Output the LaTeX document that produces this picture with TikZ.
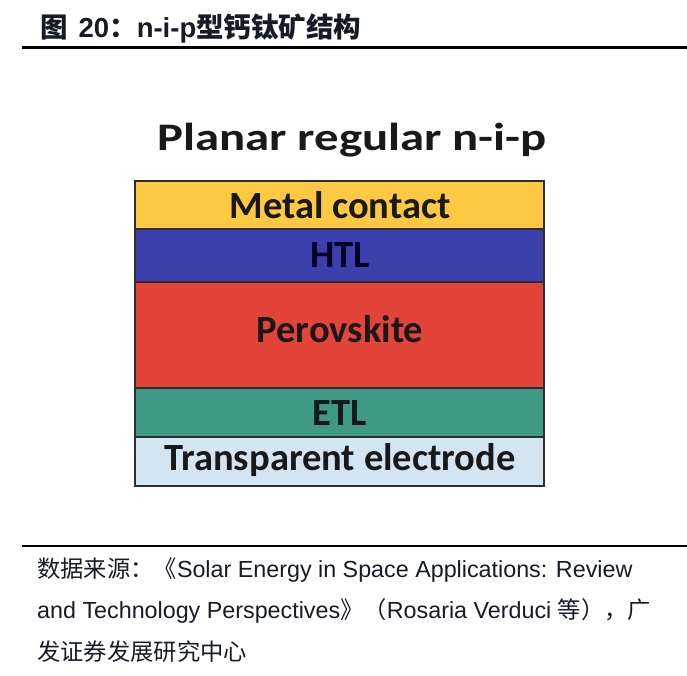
\documentclass[tikz,border=0pt]{standalone}
\usepackage{fontspec}
\setmainfont{Liberation Sans}
\newfontfamily\cjk{Noto Sans CJK SC}
\newfontfamily\carl{Carlito}
\definecolor{ink}{HTML}{161B26}
\definecolor{metal}{HTML}{FDC943}
\definecolor{htl}{HTML}{3B40AC}
\definecolor{perov}{HTML}{E2443A}
\definecolor{etl}{HTML}{3E9A84}
\definecolor{tco}{HTML}{D3E5F2}
\definecolor{edge}{HTML}{2E2E2E}
\begin{document}
\begin{tikzpicture}[x=1pt,y=-1pt,
  layer/.style={draw=edge,line width=1.4pt},
  lbl/.style={anchor=base,inner sep=0pt,text=black!90,font=\carl\bfseries\fontsize{38.5}{40}\selectfont},
  srcline/.style={anchor=base west,inner sep=0pt,text=ink,font=\fontsize{23.3}{26}\selectfont},
  rulestyle/.style={line width=2.5pt,draw=black}]
\useasboundingbox (0,0) rectangle (687,675);
% title
\node[anchor=base west,inner sep=0pt,text=ink,font=\bfseries\fontsize{27.5}{30}\selectfont] (title) at (40,37)
  {{\cjk 图}\hspace{11pt}20{\cjk ：}n-i-p{\cjk 型钙钛矿结构}};
\coordinate (r1a) at (22,47.5);
\coordinate (r1b) at (687,47.5);
\draw[rulestyle] (r1a) -- (r1b);
% diagram heading
\node[anchor=base,inner sep=0pt,text=black!90,font=\carl\bfseries\fontsize{39}{40}\selectfont,xscale=1.25] (head) at (352,150) {Planar regular n-i-p};
% layers
\path[layer,fill=metal] (135,181) rectangle (544,229);
\path[layer,fill=htl] (135,229) rectangle (544,282);
\path[layer,fill=perov] (135,282) rectangle (544,388);
\path[layer,fill=etl] (135,388) rectangle (544,437);
\path[layer,fill=tco] (135,437) rectangle (544,486);
\node[lbl] (lmetal) at (340,218) {Metal contact};
\node[lbl,text=black!85!blue] (lhtl) at (340,267) {HTL};
\node[lbl] (lperov) at (340,342) {Perovskite};
\node[lbl] (letl) at (340,425) {ETL};
\node[lbl] (ltco) at (340,470) {Transparent electrode};
% source
\coordinate (r2a) at (22,546);
\coordinate (r2b) at (687,546);
\draw[rulestyle] (r2a) -- (r2b);
\node[srcline] (s1) at (37,577) {{\cjk 数据来源：《}Solar Energy in Space Applications: Review};
\node[srcline] (s2) at (37,618) {and Technology Perspectives{\cjk 》（}Rosaria Verduci {\cjk 等），广}};
\node[srcline] (s3) at (37,660) {{\cjk 发证券发展研究中心}};
\end{tikzpicture}
\end{document}
